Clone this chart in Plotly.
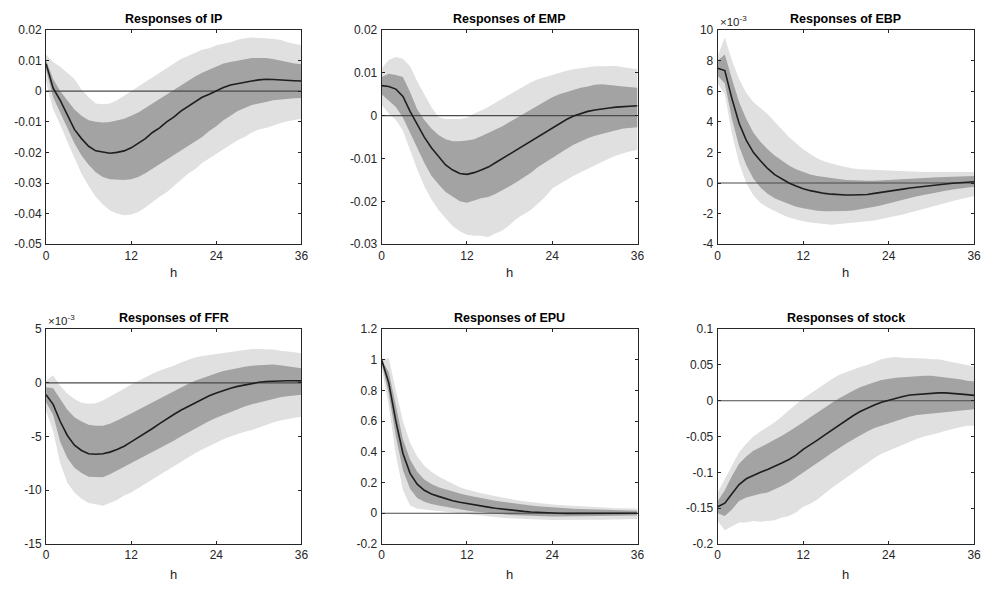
import plotly.graph_objects as go

h = list(range(37))

# ---------------- IP ----------------
ip_med = [0.009, 0.001, -0.003, -0.008, -0.0125, -0.0155, -0.018, -0.0195, -0.020, -0.0203, -0.020, -0.0195,
          -0.0185, -0.017, -0.0155, -0.0135, -0.012, -0.010, -0.0085, -0.0065, -0.005, -0.0035, -0.002, -0.001,
          0.0002, 0.0012, 0.002, 0.0025, 0.003, 0.0033, 0.0037, 0.0039, 0.0038, 0.0036, 0.0035, 0.0034, 0.0033]
ip_in_up = [0.010, 0.004, 0.0, -0.003, -0.006, -0.008, -0.0095, -0.010, -0.0102, -0.0101, -0.0095, -0.009,
            -0.008, -0.007, -0.0055, -0.004, -0.0025, -0.001, 0.0005, 0.002, 0.0035, 0.0048, 0.006, 0.007,
            0.008, 0.009, 0.0095, 0.010, 0.0105, 0.0108, 0.0108, 0.0108, 0.0105, 0.010, 0.0095, 0.009, 0.0088]
ip_in_lo = [0.007, -0.002, -0.007, -0.012, -0.017, -0.021, -0.024, -0.0265, -0.028, -0.0288, -0.029, -0.029,
            -0.0288, -0.028, -0.0268, -0.0255, -0.024, -0.0225, -0.021, -0.0195, -0.018, -0.0165, -0.015, -0.013,
            -0.0115, -0.0095, -0.008, -0.0065, -0.0055, -0.0045, -0.004, -0.0035, -0.003, -0.0028, -0.0025, -0.0023, -0.0022]
ip_out_up = [0.012, 0.0095, 0.008, 0.006, 0.004, 0.0005, -0.002, -0.004, -0.0043, -0.004, -0.003, -0.0015,
             0.0, 0.0015, 0.003, 0.0045, 0.006, 0.0075, 0.009, 0.0105, 0.0115, 0.0125, 0.0135, 0.014,
             0.015, 0.0155, 0.016, 0.0168, 0.0173, 0.0175, 0.0175, 0.0173, 0.017, 0.0168, 0.016, 0.0155, 0.015]
ip_out_lo = [0.003, -0.006, -0.011, -0.0165, -0.022, -0.027, -0.031, -0.0345, -0.037, -0.039, -0.040, -0.0405,
             -0.0403, -0.0395, -0.038, -0.0363, -0.0345, -0.033, -0.031, -0.029, -0.027, -0.0255, -0.0235, -0.022,
             -0.0205, -0.019, -0.0175, -0.016, -0.015, -0.0135, -0.0125, -0.012, -0.0113, -0.0105, -0.0098, -0.0093, -0.009]

# ---------------- EMP ----------------
emp_med = [0.007, 0.0068, 0.0062, 0.0045, 0.001, -0.002, -0.005, -0.0075, -0.0095, -0.0115, -0.0127, -0.0135,
           -0.0137, -0.0133, -0.0127, -0.012, -0.011, -0.010, -0.009, -0.0078, -0.0068, -0.0058, -0.0048, -0.0038,
           -0.0028, -0.0018, -0.0009, -0.0001, 0.0005, 0.001, 0.0013, 0.0016, 0.0018, 0.002, 0.0021, 0.0022, 0.0023]
emp_in_up = [0.009, 0.0098, 0.0095, 0.009, 0.0055, 0.0015, -0.001, -0.003, -0.0045, -0.0055, -0.006, -0.006,
             -0.0058, -0.0055, -0.0048, -0.004, -0.0033, -0.0025, -0.0015, -0.0005, 0.0005, 0.0015, 0.0025, 0.0035,
             0.0043, 0.005, 0.0055, 0.006, 0.0065, 0.0068, 0.0072, 0.0073, 0.0072, 0.007, 0.0068, 0.0066, 0.0065]
emp_in_lo = [0.005, 0.0035, 0.002, -0.0005, -0.004, -0.0075, -0.011, -0.014, -0.016, -0.0178, -0.019, -0.020,
             -0.0203, -0.0198, -0.0193, -0.019, -0.0183, -0.0175, -0.0165, -0.0155, -0.0145, -0.0133, -0.012, -0.011,
             -0.0098, -0.0088, -0.0078, -0.0068, -0.006, -0.0053, -0.0047, -0.0042, -0.0038, -0.0034, -0.003, -0.0028, -0.0027]
emp_out_up = [0.011, 0.013, 0.0137, 0.0133, 0.0115, 0.008, 0.005, 0.002, -0.0003, -0.0008, -0.0008, -0.0008,
              -0.0005, 0.0005, 0.0012, 0.002, 0.003, 0.004, 0.005, 0.006, 0.007, 0.0078, 0.0085, 0.009,
              0.0095, 0.010, 0.0105, 0.0108, 0.011, 0.0113, 0.0115, 0.0115, 0.0116, 0.0116, 0.0113, 0.011, 0.0108]
emp_out_lo = [0.0025, 0.0005, -0.001, -0.0035, -0.008, -0.0125, -0.0165, -0.0195, -0.022, -0.024, -0.0258, -0.027,
              -0.0278, -0.028, -0.028, -0.0283, -0.0275, -0.0268, -0.0255, -0.024, -0.023, -0.022, -0.0205, -0.019,
              -0.017, -0.016, -0.015, -0.014, -0.0132, -0.0123, -0.0115, -0.0108, -0.010, -0.0093, -0.0088, -0.0083, -0.008]

# ---------------- EBP ----------------
ebp_med = [0.0075, 0.00735, 0.0055, 0.0039, 0.0028, 0.0020, 0.00145, 0.00095, 0.00055, 0.00025, 0.0, -0.0002,
           -0.00038, -0.0005, -0.0006, -0.00068, -0.00073, -0.00077, -0.00078, -0.00078, -0.00078, -0.00075, -0.00068, -0.0006,
           -0.00053, -0.00046, -0.0004, -0.00033, -0.00027, -0.0002, -0.00015, -0.0001, -0.00006, -0.00002, 0.00002, 0.00005, 0.00008]
ebp_in_up = [0.0080, 0.0084, 0.0068, 0.0053, 0.0042, 0.0033, 0.0027, 0.0022, 0.0018, 0.00145, 0.00115, 0.0009,
             0.0007, 0.00055, 0.00045, 0.00038, 0.0003, 0.00025, 0.0002, 0.00018, 0.00015, 0.00015, 0.00015, 0.00018,
             0.0002, 0.00022, 0.00025, 0.00028, 0.0003, 0.00032, 0.00035, 0.00038, 0.0004, 0.00042, 0.00044, 0.00045, 0.00045]
ebp_in_lo = [0.0070, 0.0065, 0.0042, 0.0024, 0.0012, 0.0003, -0.0003, -0.0007, -0.0010, -0.0012, -0.0014, -0.00155,
             -0.00165, -0.00175, -0.00182, -0.00185, -0.00185, -0.00185, -0.00183, -0.0018, -0.00175, -0.00165, -0.00155, -0.00145,
             -0.00135, -0.00125, -0.0011, -0.00098, -0.00087, -0.00077, -0.00067, -0.00058, -0.0005, -0.00042, -0.00035, -0.0003, -0.00025]
ebp_out_up = [0.0083, 0.0095, 0.0080, 0.0068, 0.0059, 0.0053, 0.0049, 0.0045, 0.0040, 0.0035, 0.0030, 0.0026,
              0.0022, 0.0019, 0.0016, 0.0014, 0.00125, 0.00115, 0.00105, 0.00095, 0.0009, 0.00088, 0.00085, 0.00082,
              0.0008, 0.00078, 0.00075, 0.00073, 0.00072, 0.00072, 0.00072, 0.00072, 0.00072, 0.00072, 0.00072, 0.00072, 0.00072]
ebp_out_lo = [0.0065, 0.0058, 0.0032, 0.0013, 0.0, -0.0008, -0.0013, -0.0016, -0.00185, -0.00205, -0.00225, -0.0024,
              -0.0025, -0.00258, -0.00265, -0.00268, -0.00272, -0.0027, -0.00265, -0.0026, -0.00255, -0.0025, -0.00245, -0.00235,
              -0.00225, -0.00215, -0.00205, -0.00192, -0.0018, -0.00168, -0.00155, -0.00143, -0.0013, -0.00118, -0.00105, -0.00095, -0.00085]

# ---------------- FFR ----------------
ffr_med = [-0.0011, -0.0020, -0.0036, -0.0049, -0.0058, -0.0063, -0.0066, -0.00665, -0.0066, -0.00645, -0.0062, -0.0059,
           -0.0055, -0.0051, -0.0047, -0.00425, -0.0038, -0.00335, -0.00295, -0.00255, -0.0022, -0.00185, -0.0015, -0.0012,
           -0.00095, -0.0007, -0.0005, -0.00033, -0.00018, -0.00005, 0.00005, 0.00012, 0.00017, 0.0002, 0.0002, 0.0002, 0.00018]
ffr_in_up = [-0.0004, -0.0005, -0.0015, -0.0025, -0.0032, -0.0036, -0.0039, -0.0040, -0.0040, -0.0038, -0.0035, -0.0032,
             -0.00285, -0.0025, -0.00215, -0.0018, -0.00145, -0.0011, -0.00075, -0.0004, -0.0001, 0.0002, 0.00045, 0.0007,
             0.0009, 0.0011, 0.00125, 0.0014, 0.0015, 0.0016, 0.00165, 0.0017, 0.0017, 0.00165, 0.00155, 0.00145, 0.00135]
ffr_in_lo = [-0.0018, -0.0030, -0.0055, -0.0070, -0.0079, -0.0084, -0.00875, -0.0088, -0.0088, -0.0085, -0.00815, -0.0078,
             -0.0075, -0.00715, -0.0068, -0.00645, -0.0061, -0.00575, -0.0054, -0.0050, -0.0046, -0.00425, -0.0039, -0.00355,
             -0.00325, -0.00295, -0.0027, -0.00245, -0.0022, -0.0020, -0.0018, -0.00165, -0.0015, -0.00135, -0.00125, -0.00115, -0.0011]
ffr_out_up = [0.0002, 0.0007, -0.0003, -0.0010, -0.0015, -0.00185, -0.00195, -0.0019, -0.00165, -0.0013, -0.00095, -0.00055,
              -0.00015, 0.0002, 0.0005, 0.00085, 0.00115, 0.00135, 0.0016, 0.0019, 0.00215, 0.00235, 0.0025, 0.0026,
              0.0027, 0.0028, 0.0029, 0.0030, 0.0031, 0.00315, 0.00315, 0.00315, 0.0031, 0.0030, 0.00295, 0.00285, 0.00275]
ffr_out_lo = [-0.0026, -0.0045, -0.0075, -0.0093, -0.0102, -0.0108, -0.0112, -0.0113, -0.01145, -0.0112, -0.0109, -0.0105,
              -0.0102, -0.0098, -0.0094, -0.0090, -0.0086, -0.0082, -0.00775, -0.00735, -0.00695, -0.00655, -0.0062, -0.00585,
              -0.00555, -0.00525, -0.0050, -0.00475, -0.00455, -0.0044, -0.00415, -0.00395, -0.0037, -0.0035, -0.00335, -0.00325, -0.00315]

# ---------------- EPU ----------------
epu_med = [1.0, 0.85, 0.6, 0.39, 0.26, 0.19, 0.15, 0.125, 0.11, 0.095, 0.082, 0.072,
           0.063, 0.055, 0.047, 0.04, 0.033, 0.027, 0.021, 0.016, 0.012, 0.008, 0.005, 0.003,
           0.001, 0.0, -0.001, -0.001, -0.001, -0.001, -0.001, 0.0, 0.0, 0.0, 0.0, 0.0, 0.0]
epu_in_up = [1.0, 0.92, 0.7, 0.48, 0.35, 0.27, 0.22, 0.19, 0.17, 0.155, 0.14, 0.128,
             0.117, 0.107, 0.098, 0.09, 0.082, 0.075, 0.068, 0.062, 0.056, 0.051, 0.046, 0.042,
             0.038, 0.035, 0.032, 0.029, 0.027, 0.025, 0.023, 0.021, 0.02, 0.019, 0.018, 0.017, 0.016]
epu_in_lo = [0.98, 0.78, 0.5, 0.28, 0.16, 0.1, 0.075, 0.06, 0.05, 0.04, 0.032, 0.025,
             0.018, 0.012, 0.007, 0.002, -0.003, -0.007, -0.011, -0.014, -0.016, -0.018, -0.019, -0.02,
             -0.021, -0.021, -0.021, -0.021, -0.02, -0.02, -0.019, -0.018, -0.018, -0.017, -0.016, -0.016, -0.015]
epu_out_up = [1.0, 1.01, 0.8, 0.6, 0.46, 0.37, 0.31, 0.27, 0.24, 0.215, 0.19, 0.17,
              0.155, 0.14, 0.13, 0.12, 0.11, 0.1, 0.092, 0.085, 0.078, 0.072, 0.066, 0.061,
              0.057, 0.053, 0.05, 0.047, 0.044, 0.041, 0.039, 0.037, 0.035, 0.033, 0.032, 0.031, 0.03]
epu_out_lo = [0.95, 0.7, 0.38, 0.15, 0.05, 0.03, 0.025, 0.02, 0.015, 0.01, 0.005, 0.0,
              -0.005, -0.01, -0.015, -0.02, -0.025, -0.03, -0.033, -0.036, -0.038, -0.04, -0.042, -0.043,
              -0.044, -0.045, -0.045, -0.045, -0.045, -0.044, -0.043, -0.042, -0.041, -0.04, -0.039, -0.038, -0.038]

# ---------------- stock ----------------
stk_med = [-0.148, -0.143, -0.13, -0.117, -0.109, -0.104, -0.1, -0.096, -0.092, -0.087, -0.082, -0.076,
           -0.068, -0.062, -0.055, -0.048, -0.041, -0.034, -0.027, -0.021, -0.015, -0.01, -0.006, -0.002,
           0.001, 0.004, 0.006, 0.008, 0.009, 0.01, 0.0105, 0.011, 0.011, 0.0105, 0.0095, 0.0085, 0.0075]
stk_in_up = [-0.14, -0.125, -0.105, -0.088, -0.078, -0.07, -0.065, -0.06, -0.055, -0.049, -0.043, -0.037,
             -0.03, -0.023, -0.016, -0.009, -0.003, 0.003, 0.009, 0.014, 0.019, 0.023, 0.026, 0.029,
             0.031, 0.032, 0.033, 0.034, 0.035, 0.035, 0.035, 0.034, 0.033, 0.032, 0.03, 0.028, 0.027]
stk_in_lo = [-0.157, -0.161, -0.152, -0.14, -0.135, -0.132, -0.13, -0.128, -0.124, -0.119, -0.114, -0.107,
             -0.1, -0.094, -0.087, -0.08, -0.073, -0.066, -0.06, -0.054, -0.048, -0.043, -0.038, -0.034,
             -0.031, -0.028, -0.025, -0.022, -0.02, -0.018, -0.017, -0.016, -0.015, -0.014, -0.013, -0.013, -0.012]
stk_out_up = [-0.128, -0.11, -0.09, -0.072, -0.06, -0.05, -0.043, -0.037, -0.03, -0.022, -0.013, -0.005,
              0.003, 0.01, 0.017, 0.024, 0.03, 0.036, 0.04, 0.044, 0.047, 0.05, 0.054, 0.058,
              0.06, 0.061, 0.06, 0.06, 0.059, 0.059, 0.058, 0.058, 0.056, 0.054, 0.052, 0.05, 0.048]
stk_out_lo = [-0.168, -0.181, -0.175, -0.17, -0.17, -0.168, -0.169, -0.168, -0.167, -0.163, -0.161, -0.156,
              -0.148, -0.144, -0.138, -0.13, -0.122, -0.114, -0.107, -0.1, -0.093, -0.087, -0.08, -0.074,
              -0.07, -0.066, -0.061, -0.057, -0.053, -0.05, -0.047, -0.045, -0.042, -0.039, -0.037, -0.035, -0.035]

titles = ["Responses of IP", "Responses of EMP", "Responses of EBP",
          "Responses of FFR", "Responses of EPU", "Responses of stock"]

x_tickvals = [0, 12, 24, 36]
x_ticktext = ["0", "12", "24", "36"]

ip_ticks = [0.02, 0.01, 0.0, -0.01, -0.02, -0.03, -0.04, -0.05]
ip_ticklabels = ["0.02", "0.01", "0", "-0.01", "-0.02", "-0.03", "-0.04", "-0.05"]
emp_ticks = [0.02, 0.01, 0.0, -0.01, -0.02, -0.03]
emp_ticklabels = ["0.02", "0.01", "0", "-0.01", "-0.02", "-0.03"]
ebp_ticks = [0.010, 0.008, 0.006, 0.004, 0.002, 0.0, -0.002, -0.004]
ebp_ticklabels = ["10", "8", "6", "4", "2", "0", "-2", "-4"]
ffr_ticks = [0.005, 0.0, -0.005, -0.010, -0.015]
ffr_ticklabels = ["5", "0", "-5", "-10", "-15"]
epu_ticks = [1.2, 1.0, 0.8, 0.6, 0.4, 0.2, 0.0, -0.2]
epu_ticklabels = ["1.2", "1", "0.8", "0.6", "0.4", "0.2", "0", "-0.2"]
stk_ticks = [0.1, 0.05, 0.0, -0.05, -0.1, -0.15, -0.2]
stk_ticklabels = ["0.1", "0.05", "0", "-0.05", "-0.1", "-0.15", "-0.2"]

panels = [
    (ip_med, ip_in_up, ip_in_lo, ip_out_up, ip_out_lo, ip_ticks, ip_ticklabels, [-0.05, 0.02], False),
    (emp_med, emp_in_up, emp_in_lo, emp_out_up, emp_out_lo, emp_ticks, emp_ticklabels, [-0.03, 0.02], False),
    (ebp_med, ebp_in_up, ebp_in_lo, ebp_out_up, ebp_out_lo, ebp_ticks, ebp_ticklabels, [-0.004, 0.010], True),
    (ffr_med, ffr_in_up, ffr_in_lo, ffr_out_up, ffr_out_lo, ffr_ticks, ffr_ticklabels, [-0.015, 0.005], True),
    (epu_med, epu_in_up, epu_in_lo, epu_out_up, epu_out_lo, epu_ticks, epu_ticklabels, [-0.2, 1.2], False),
    (stk_med, stk_in_up, stk_in_lo, stk_out_up, stk_out_lo, stk_ticks, stk_ticklabels, [-0.2, 0.1], False),
]

# The page's body margin is removed (post_script below), so the 990x589 figure
# fills the window exactly and figure pixels equal window pixels.
W, H = 990, 589
col_px = [(43.5, 301.5), (382.5, 641), (722, 981)]   # axes boxes in window pixels
row_px = [(23.5, 243), (330, 550)]
h_label_px = [272, 581]                               # centre of the "h" labels


def fx(p):
    return p / W


def fy(p):
    return 1 - p / H


FONT = "Arial, Liberation Sans, Helvetica, sans-serif"
TXT = "#262626"
LIGHT = "#e0e0e0"
DARK = "#a3a3a3"

fig = go.Figure()
annotations = []
layout_axes = {}

for i, (med, iu, il, ou, ol, tv, tt, yr, sci) in enumerate(panels):
    r, c = divmod(i, 3)
    n = i + 1
    xa = "x" if n == 1 else f"x{n}"
    ya = "y" if n == 1 else f"y{n}"
    x0, x1 = fx(col_px[c][0]), fx(col_px[c][1])
    ytop, ybot = fy(row_px[r][0]), fy(row_px[r][1])

    fig.add_trace(go.Scatter(x=h + h[::-1], y=ou + ol[::-1], fill="toself", fillcolor=LIGHT,
                             line=dict(width=0), mode="lines", hoverinfo="skip", showlegend=False,
                             xaxis=xa, yaxis=ya))
    fig.add_trace(go.Scatter(x=h + h[::-1], y=iu + il[::-1], fill="toself", fillcolor=DARK,
                             line=dict(width=0), mode="lines", hoverinfo="skip", showlegend=False,
                             xaxis=xa, yaxis=ya))
    fig.add_trace(go.Scatter(x=[h[0], h[-1]], y=[0, 0], mode="lines",
                             line=dict(color="#4a4a4a", width=1.2), hoverinfo="skip", showlegend=False,
                             xaxis=xa, yaxis=ya))
    fig.add_trace(go.Scatter(x=h, y=med, mode="lines", line=dict(color="#1e1e1e", width=1.6),
                             hoverinfo="skip", showlegend=False, xaxis=xa, yaxis=ya))

    axcommon = dict(showline=True, mirror="ticks", linecolor=TXT, linewidth=1,
                    ticks="inside", ticklen=3, tickcolor=TXT, tickwidth=1,
                    showgrid=False, zeroline=False,
                    tickfont=dict(family=FONT, size=12, color=TXT))
    layout_axes["xaxis" if n == 1 else f"xaxis{n}"] = dict(
        axcommon, domain=[x0, x1], anchor=ya, range=[0, 36],
        tickmode="array", tickvals=x_tickvals, ticktext=x_ticktext)
    layout_axes["yaxis" if n == 1 else f"yaxis{n}"] = dict(
        axcommon, domain=[ybot, ytop], anchor=xa, range=yr, ticklabelstandoff=1,
        tickmode="array", tickvals=tv, ticktext=tt)

    annotations.append(dict(text=f"<b>{titles[i]}</b>", x=(x0 + x1) / 2, y=fy(row_px[r][0] - 11.5),
                            xref="paper", yref="paper", xanchor="center", yanchor="middle",
                            showarrow=False, font=dict(family=FONT, size=12.5, color="#000000")))
    annotations.append(dict(text="h", x=(x0 + x1) / 2, y=fy(h_label_px[r]), xref="paper", yref="paper",
                            xanchor="center", yanchor="middle", showarrow=False,
                            font=dict(family=FONT, size=13, color=TXT)))
    if sci:
        annotations.append(dict(text="×10<sup>-3</sup>", x=x0, y=ytop, xref="paper", yref="paper",
                                xanchor="left", yanchor="bottom", yshift=0, showarrow=False,
                                font=dict(family=FONT, size=11.5, color=TXT)))

fig.update_layout(width=W, height=H, margin=dict(l=0, r=0, t=0, b=0),
                  paper_bgcolor="white", plot_bgcolor="white", hovermode=False,
                  annotations=annotations, showlegend=False, **layout_axes)

fig.write_html("out.html", config={"displayModeBar": False, "staticPlot": True},
               post_script="document.body.style.margin='0px';document.body.style.overflow='hidden';")
